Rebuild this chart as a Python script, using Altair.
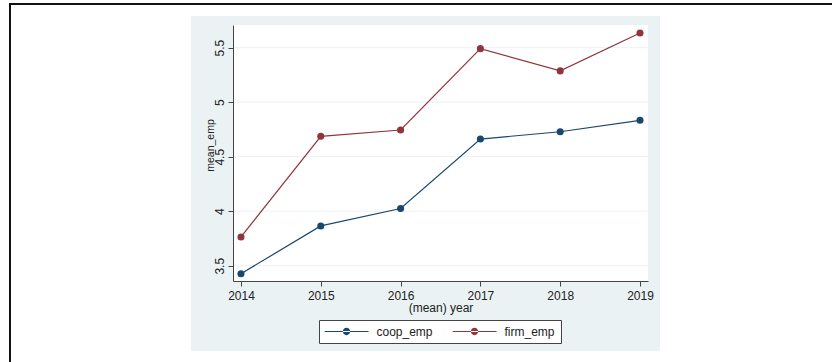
import altair as alt
import pandas as pd

# ---- data ----
years = [2014, 2015, 2016, 2017, 2018, 2019]
coop_emp = [3.427, 3.865, 4.025, 4.662, 4.729, 4.834]
firm_emp = [3.764, 4.687, 4.745, 5.491, 5.287, 5.635]
series_names = ["coop_emp", "firm_emp"]
series_colors = ["#1A476F", "#90353B"]
y_ticks = [3.5, 4, 4.5, 5, 5.5]

rows = []
for y, c, f in zip(years, coop_emp, firm_emp):
    rows.append({"year": y, "value": c, "series": "coop_emp"})
    rows.append({"year": y, "value": f, "series": "firm_emp"})
df = pd.DataFrame(rows)
grid_df = pd.DataFrame({"value": y_ticks})
one = pd.DataFrame({"a": [0]})

FONT = "Liberation Sans"
W, H = 415, 256

xscale = alt.Scale(domain=[2013.9, 2019.1], nice=False, zero=False)
yscale = alt.Scale(domain=[3.36, 5.708], nice=False, zero=False)
cscale = alt.Scale(domain=series_names, range=series_colors)

LEGEND_PATH = ("M-1,-0.028L1,-0.028L1,0.028L-1,0.028Z "
               "M-0.165,0A0.165,0.165,0,1,0,0.165,0A0.165,0.165,0,1,0,-0.165,0Z")

x_axis = alt.Axis(values=years, format="d", tickSize=5, labelPadding=4,
                  labelFont=FONT, labelFontSize=12, labelColor="#222",
                  labelFlush=False, grid=False, domainColor="#444", tickColor="#444",
                  title="(mean) year", titleFont=FONT, titleFontSize=12,
                  titleFontWeight="normal", titleColor="#222",
                  titleX=207.5, titleY=30, titleAlign="center",
                  titleBaseline="alphabetic", zindex=1)
y_axis = alt.Axis(values=y_ticks, format="~g", tickSize=5, labelPadding=4.7,
                  labelAngle=270, labelAlign="center", labelBaseline="alphabetic",
                  labelFont=FONT, labelFontSize=12, labelColor="#222",
                  labelFlush=False, grid=False, domainColor="#444", tickColor="#444",
                  title="mean_emp", titleFont=FONT, titleFontSize=10.5,
                  titleFontWeight="normal", titleColor="#222",
                  titleAngle=270, titleX=-19.7, titleY=120, titleAlign="center",
                  titleBaseline="alphabetic", zindex=1)
legend = alt.Legend(
    orient="none", legendX=86, legendY=295, direction="horizontal",
    title=None, symbolType=LEGEND_PATH, symbolSize=1936, clipHeight=12,
    padding=5.5, labelOffset=8, columnPadding=19, fillColor="white",
    strokeColor="#444", labelFont=FONT, labelFontSize=12, labelColor="#222",
    symbolOpacity=1, symbolStrokeWidth=0)

graph_bg = alt.Chart(one).mark_rect(color="#EAF2F3").encode(
    x=alt.value(-42), x2=alt.value(427), y=alt.value(-9), y2=alt.value(326))
plot_bg = alt.Chart(one).mark_rect(color="white").encode(
    x=alt.value(0), x2=alt.value(W), y=alt.value(0), y2=alt.value(H))
border_top = alt.Chart(one).mark_rule(color="#111", strokeWidth=2).encode(
    x=alt.value(-224), x2=alt.value(600), y=alt.value(-21))
border_left = alt.Chart(one).mark_rule(color="#111", strokeWidth=2).encode(
    x=alt.value(-223), y=alt.value(-22), y2=alt.value(340))

grid = alt.Chart(grid_df).mark_rule(color="#EAF2F3", strokeWidth=1).encode(
    y=alt.Y("value:Q", scale=yscale, axis=y_axis))

lines = alt.Chart(df).mark_line(strokeWidth=1.2).encode(
    x=alt.X("year:Q", scale=xscale, axis=x_axis),
    y=alt.Y("value:Q", scale=yscale, axis=y_axis),
    color=alt.Color("series:N", scale=cscale, legend=legend),
    detail="series:N",
)
points = alt.Chart(df).mark_point(filled=True, size=50, opacity=1).encode(
    x=alt.X("year:Q", scale=xscale, axis=x_axis),
    y=alt.Y("value:Q", scale=yscale, axis=y_axis),
    color=alt.Color("series:N", scale=cscale, legend=legend),
)

chart = alt.layer(graph_bg, plot_bg, grid, border_top, border_left, points, lines).properties(
    width=W, height=H,
    padding={"left": 233, "top": 25, "right": 184, "bottom": 81},
    autosize=alt.AutoSizeParams(type="none"),
    background="white",
).configure_view(stroke=None)

chart.save("out.html", embed_options={"renderer": "svg", "actions": False})
